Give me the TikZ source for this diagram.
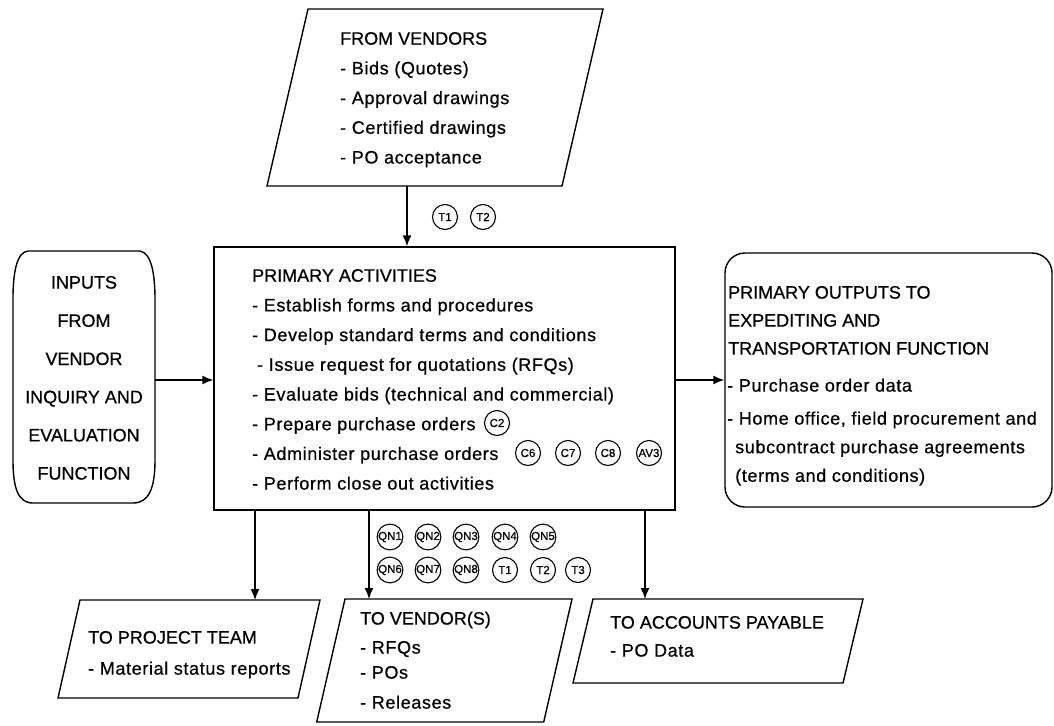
\documentclass[tikz,border=0pt]{standalone}
\usepackage{fontspec}
\setmainfont[FakeBold=0.6]{Liberation Sans}
\newfontfamily\itemfont[LetterSpace=3.5,FakeBold=0.6]{Liberation Sans}
\newfontfamily\tagfont[FakeBold=0.8]{Liberation Sans}
\usetikzlibrary{arrows.meta}
% strut fixing the height of a block's first line
\newcommand\firstln{\rule{0pt}{14pt}}

\begin{document}
\begin{tikzpicture}[x=1pt,y=-1pt,
  box/.style={draw, line width=1.4pt},
  arr/.style={line width=1.5pt, -{Latex[length=11pt,width=9pt]}},
  tag/.style={circle, draw, line width=1.1pt, minimum size=25pt, inner sep=0pt,
              font=\tagfont\fontsize{11.5}{11.5}\selectfont},
  txt/.style={anchor=north west, align=left, inner sep=0pt,
              font=\fontsize{18}{29.7}\selectfont},
]
% canvas
\path[fill=white] (0,0) rectangle (1054,725);
\useasboundingbox (0,0) rectangle (1054,725);

% ---------- incoming documents from vendors ----------
\draw[box] (308,9) -- (603,9) -- (562,186) -- (267,186) -- cycle;
\node[txt] (fvtext) at (340,30.5)
  {\firstln FROM VENDORS\\ \itemfont - Bids (Quotes)\\ \itemfont - Approval drawings\\
   \itemfont - Certified drawings\\ \itemfont - PO acceptance};
\coordinate (fvbot) at (407,186);

% ---------- primary activities ----------
\node[box, minimum width=461pt, minimum height=263pt, inner sep=0pt] (pa) at (444.5,378.5) {};
\node[txt] (patext) at (252,267.5)
  {\firstln PRIMARY ACTIVITIES\\
   \itemfont - Establish forms and procedures\\
   \itemfont - Develop standard terms and conditions\\
   \itemfont \hspace*{5pt}- Issue request for quotations (RFQs)\\
   \itemfont - Evaluate bids (technical and commercial)\\
   \itemfont - Prepare purchase orders\\
   \itemfont - Administer purchase orders\\
   \itemfont - Perform close out activities};
\node[tag] (c2) at (497,423) {C2};
\node[tag] (c6) at (528,453) {C6};
\node[tag] (c7) at (568,453) {C7};
\node[tag] (c8) at (608,453) {C8};
\node[tag] (av3) at (649,453) {AV3};

% ---------- inputs on the left ----------
\draw[box] (28,251) -- (140,251)
  .. controls (151,253) and (155,272) .. (155,300) -- (155,460)
  .. controls (155,488) and (149,503) .. (133,503) -- (33,503)
  .. controls (18,503) and (13,488) .. (13,460) -- (13,298)
  .. controls (13,272) and (17,252) .. (28,251) -- cycle;
\node[minimum width=142pt, minimum height=252pt, inner sep=0pt] (inp) at (84,377) {};
\node[anchor=north, align=center, inner sep=0pt, font=\fontsize{18}{38.2}\selectfont] (inptext) at (84,274.4)
  {\firstln INPUTS\\ FROM\\ VENDOR\\ INQUIRY AND\\ EVALUATION\\ FUNCTION};

% ---------- outputs on the right ----------
\node[box, rounded corners=20pt, minimum width=327pt, minimum height=254pt, inner sep=0pt] (out) at (888.5,380) {};
\node[txt, font=\fontsize{18}{28}\selectfont] (outhead) at (728,284.4)
  {\firstln PRIMARY OUTPUTS TO\\ EXPEDITING AND\\ TRANSPORTATION FUNCTION};
\node[txt, font=\fontsize{18}{28.6}\selectfont] (outlist) at (727,377.4)
  {\firstln\itemfont - Purchase order data\\[4.4pt]
   \itemfont - Home office, field procurement and\\
   \itemfont \hspace*{8pt}subcontract purchase agreements\\
   \itemfont \hspace*{8pt}(terms and conditions)};

% ---------- destinations below ----------
\draw[box] (80,600) -- (320,600) -- (298,698) -- (58,698) -- cycle;
\node[txt, font=\fontsize{18}{31}\selectfont] (pttext) at (88,629.4)
  {\firstln TO PROJECT TEAM\\ \itemfont - Material status reports};
\coordinate (pttop) at (255,600);

\draw[box] (345,599) -- (572,599) -- (543.7,722) -- (316.7,722) -- cycle;
\node[txt, font=\fontsize{18}{25}\selectfont] (vdtext) at (360,610.4)
  {\firstln TO VENDOR(S)\\[4pt] \itemfont - RFQs\\ \itemfont - POs\\[5pt] \itemfont - Releases};
\coordinate (vdtop) at (369,599);

\draw[box] (593,599) -- (863,599) -- (843,683) -- (573,683) -- cycle;
\node[txt, font=\fontsize{18}{28}\selectfont] (aptext) at (610,614.4)
  {\firstln TO ACCOUNTS PAYABLE\\ \itemfont - PO Data};
\coordinate (aptop) at (645,599);

% reference tags along the vendor flow
\node[tag] (qn1) at (390,537) {QN1};
\node[tag] (qn2) at (428,537) {QN2};
\node[tag] (qn3) at (466,537) {QN3};
\node[tag] (qn4) at (505,537) {QN4};
\node[tag] (qn5) at (543,537) {QN5};
\node[tag] (qn6) at (390,570) {QN6};
\node[tag] (qn7) at (428,570) {QN7};
\node[tag] (qn8) at (466,570) {QN8};
\node[tag] (t1b) at (505,570) {T1};
\node[tag] (t2b) at (543,570) {T2};
\node[tag] (t3b) at (578,570) {T3};

% reference tags on the vendor input
\node[tag] (t1a) at (445,217) {T1};
\node[tag] (t2a) at (483,217) {T2};

% ---------- connectors ----------
\draw[arr] (fvbot) -- (fvbot |- pa.north);
\draw[arr] ([yshift=-3pt]inp.east) -- ([yshift=-3pt]inp.east -| pa.west);
\draw[arr] (out.west -| pa.east) -- (out.west);
\draw[arr] (pa.south -| pttop) -- (pttop);
\draw[arr] (pa.south -| vdtop) -- (vdtop);
\draw[arr] (pa.south -| aptop) -- (aptop);
\end{tikzpicture}
\end{document}
